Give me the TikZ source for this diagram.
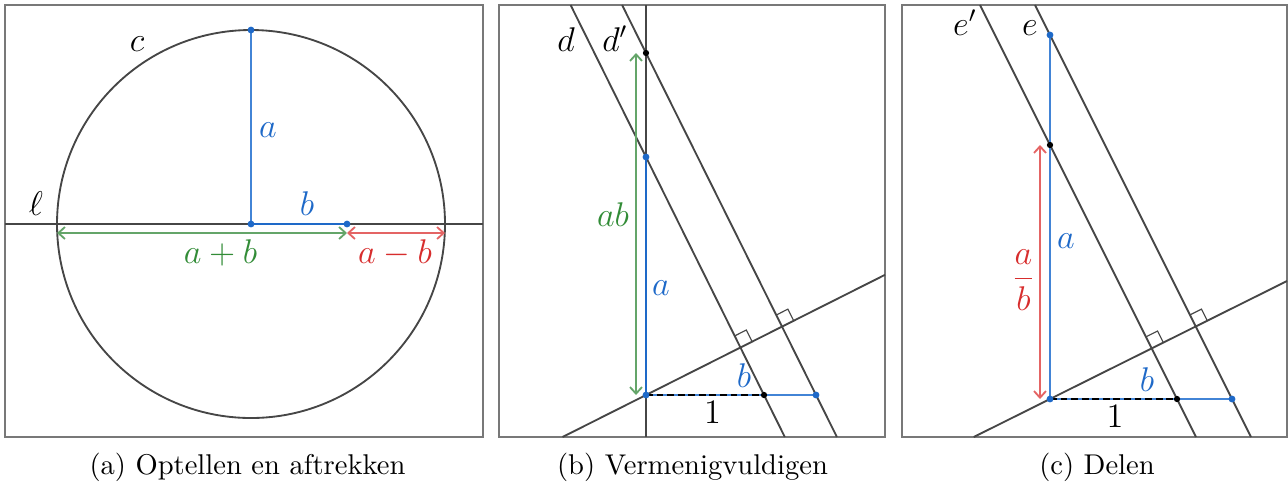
\documentclass[tikz,border=0pt]{standalone}
\usetikzlibrary{arrows.meta}
\definecolor{geoline}{RGB}{70,70,70}
\definecolor{framec}{RGB}{120,120,120}
\definecolor{bluel}{RGB}{66,132,214}
\definecolor{bluet}{RGB}{30,105,200}
\definecolor{greenl}{RGB}{100,165,105}
\definecolor{greent}{RGB}{50,140,55}
\definecolor{redl}{RGB}{228,100,100}
\definecolor{redt}{RGB}{215,45,45}
\begin{document}
\begin{tikzpicture}[x=0.35pt,y=-0.35pt,
  frame/.style={draw=framec,line width=0.4pt},
  geo/.style={draw=geoline,line width=0.65pt},
  seg/.style={draw=bluel,line width=0.7pt},
  unitseg/.style={draw=black,line width=0.7pt,dash pattern=on 2.4pt off 1.3pt},
  rangle/.style={draw=geoline,line width=0.4pt},
  dimarrow/.style={line width=0.65pt,{Straight Barb[length=2.3pt,width=4.2pt]}-{Straight Barb[length=2.3pt,width=4.2pt]}},
  lbl/.style={font=\fontsize{11.5}{14}\selectfont,inner sep=0pt,anchor=base},
  captext/.style={font=\fontsize{10}{12}\selectfont,inner sep=0pt,anchor=base}]
\useasboundingbox (0,0) rectangle (1288,486);

% ================= panel (a) =================
\draw[frame] (5,5) rectangle (483,437);
\coordinate (aC) at (251,224);
\coordinate (aT) at (251,30);
\coordinate (aB) at (347,224);
\coordinate (lW) at (5,224);
\coordinate (lE) at (483,224);
\coordinate (gW) at (57,233);
\coordinate (gE) at (347,233);
\coordinate (rE) at (445,233);
\draw[geo] (aC) circle[radius=67.9pt];
\draw[geo] (lW) -- (lE);
\draw[seg] (aC) -- (aT);
\draw[seg,draw=bluet] (aC) -- (aB);
\draw[dimarrow,greenl] (gW) -- (gE);
\draw[dimarrow,redl] (gE) -- (rE);
\fill[bluet] (aC) circle[radius=1.2pt] (aT) circle[radius=1.2pt] (aB) circle[radius=1.2pt];
\node[lbl] (lc) at (137,51) {$c$};
\node[lbl] (lell) at (36,215) {$\ell$};
\node[lbl,text=bluet] (la) at (268,137) {$a$};
\node[lbl,text=bluet] (lb) at (307,215) {$b$};
\node[lbl,text=greent] (lapb) at (220.5,263) {$a+b$};
\node[lbl,text=redt] (lamb) at (395,263) {$a-b$};
\node[captext] (capa) at (247.5,474) {(a) Optellen en aftrekken};

% ================= panel (b) =================
\draw[frame] (499,5) rectangle (885,437);
\coordinate (bO) at (646,395);
\coordinate (bA) at (646,157);
\coordinate (bAB) at (646,53);
\coordinate (bU) at (764,395);
\coordinate (bB) at (816,395);
\coordinate (vN) at (646,5);
\coordinate (vS) at (646,437);
\coordinate (oW) at (562.5,437);
\coordinate (oE) at (885,274.8);
\coordinate (dN) at (570.6,5);
\coordinate (dS) at (784.8,437);
\coordinate (dpN) at (622.1,5);
\coordinate (dpS) at (836.9,437);
\coordinate (gS) at (636,395);
\coordinate (gN) at (636,53);
\draw[geo] (vN) -- (vS);
\draw[geo] (oW) -- (oE);
\draw[geo] (dN) -- (dS);
\draw[geo] (dpN) -- (dpS);
\draw[rangle] (752.1,341.7) -- (746.3,330.0) -- (734.7,335.9);
\draw[rangle] (793.7,320.8) -- (787.9,309.1) -- (776.3,315.0);
\draw[seg,draw=bluet] (bO) -- (bA);
\draw[seg] (bO) -- (bB);
\draw[unitseg] (bO) -- (bU);
\draw[dimarrow,greenl] (gS) -- (gN);
\fill[bluet] (bO) circle[radius=1.2pt] (bA) circle[radius=1.2pt] (bB) circle[radius=1.2pt];
\fill[black] (bAB) circle[radius=1.1pt] (bU) circle[radius=1.1pt];
\node[lbl] (ld) at (566,51) {$d$};
\node[lbl] (ldp) at (615,51) {$d'$};
\node[lbl,text=greent] (lab) at (613,226) {$ab$};
\node[lbl,text=bluet] (lba) at (661,295) {$a$};
\node[lbl,text=bluet] (lbb) at (744,387) {$b$};
\node[lbl] (lb1) at (712.5,423) {$1$};
\node[captext] (capb) at (692.5,474) {(b) Vermenigvuldigen};

% ================= panel (c) =================
\draw[frame] (902,5) rectangle (1287,437);
\coordinate (cO) at (1050,399);
\coordinate (cA) at (1050,35);
\coordinate (cQ) at (1050,145);
\coordinate (cU) at (1177,399);
\coordinate (cB) at (1232,399);
\coordinate (coW) at (973.7,437);
\coordinate (coE) at (1287,281);
\coordinate (eN) at (1035,5);
\coordinate (eS) at (1251,437);
\coordinate (epN) at (980,5);
\coordinate (epS) at (1196,437);
\coordinate (rS) at (1040,399);
\coordinate (rN) at (1040,145);
\draw[geo] (coW) -- (coE);
\draw[geo] (eN) -- (eS);
\draw[geo] (epN) -- (epS);
\draw[rangle] (1163.3,342.6) -- (1157.5,331.0) -- (1145.9,336.8);
\draw[rangle] (1207.3,320.7) -- (1201.5,309.1) -- (1189.9,314.9);
\draw[seg] (cO) -- (cA);
\draw[seg] (cO) -- (cB);
\draw[unitseg] (cO) -- (cU);
\draw[dimarrow,redl] (rS) -- (rN);
\fill[bluet] (cO) circle[radius=1.2pt] (cA) circle[radius=1.2pt] (cB) circle[radius=1.2pt];
\fill[black] (cQ) circle[radius=1.1pt] (cU) circle[radius=1.1pt];
\node[lbl] (lep) at (965,35) {$e'$};
\node[lbl] (le) at (1030,35) {$e$};
\node[lbl,text=bluet] (lca) at (1066,248) {$a$};
\node[lbl,text=redt,anchor=center] (lfrac) at (1023.5,280) {$\displaystyle\frac{a}{b}$};
\node[lbl,text=bluet] (lcb) at (1147,391) {$b$};
\node[lbl] (lc1) at (1115,427) {$1$};
\node[captext] (capc) at (1097,474) {(c) Delen};
\end{tikzpicture}
\end{document}
